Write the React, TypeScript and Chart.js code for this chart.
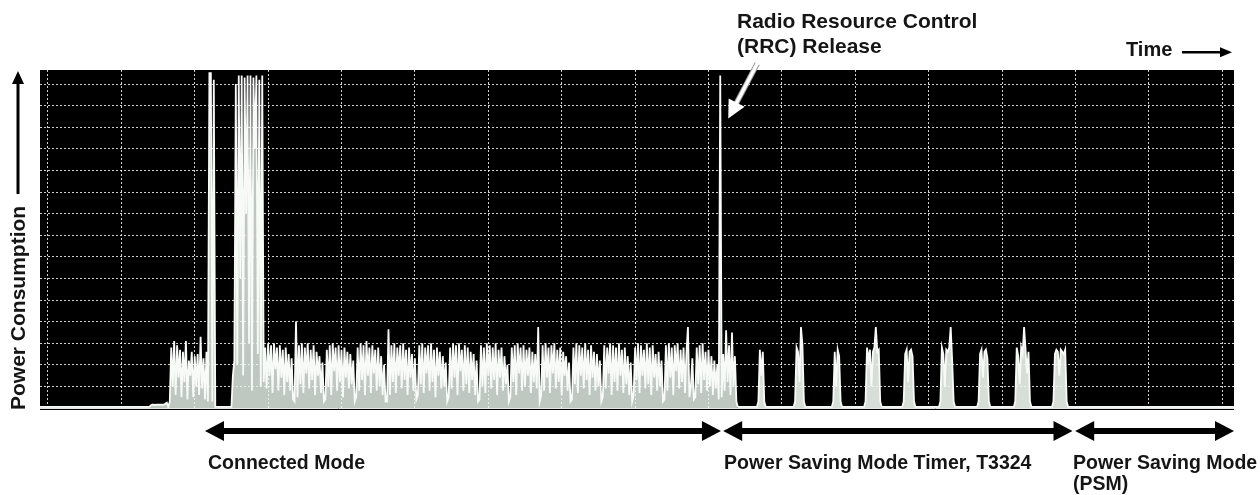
import React, { useEffect, useRef } from "react";
import { Chart, registerables } from "chart.js";

Chart.register(...registerables);

// ---- axis ranges (time in samples, power in grid divisions) ----
const X_MIN = -5.4;
const X_MAX = 808;
const Y_MIN = 0;
const Y_MAX = 15.65;
const X_GRID = [0, 50, 100, 150, 200, 250, 300, 350, 400, 450, 500, 550, 600, 650, 700, 750, 800];
const Y_GRID = [0, 1, 2, 3, 4, 5, 6, 7, 8, 9, 10, 11, 12, 13, 14, 15];

const IDLE_LEVEL = 0.05;

// ---- trace segments (start sample + read values) ----
const LEAD_START = 70;
const LEAD_VALUES = [0.12, 0.15, 0.15, 0.14, 0.16, 0.15, 0.15, 0.16, 0.15, 0.15, 0.2, 0.25];

const ATTACH_START = 83;
const ATTACH_VALUES = [
  0.3, 2.8, 1.0, 3.1, 0.6, 2.9, 1.4, 2.7, 0.5, 2.6, 1.2, 3.1, 0.4, 2.2, 1.5, 2.6, 0.5, 2.4, 1.0, 2.5,
  0.6, 3.3, 0.9, 2.3, 0.4, 2.6, 0.3, 15.5, 15.5, 0.3, 15.2,
];

const BURST_START = 126;
const BURST_VALUES = [
  1.5, 2.2, 15.0, 2.0, 15.4, 6.0, 15.4, 1.5, 15.3, 9.0, 15.4, 3.0, 15.4, 0.8, 15.3, 12.0, 15.4, 2.5, 15.2,
  1.0, 15.4,
];

const CONNECTED_START = 147;
const G1 = [1.2, 2.8, 0.9, 3.0, 1.5, 2.9, 0.7, 3.0, 1.8, 2.8, 0.8, 2.9, 1.4, 2.7, 0.6, 2.8, 1.2, 2.5, 0.8, 2.3, 0.4];
const G2 = [0.3, 4.0, 0.5, 2.9, 1.1, 3.0, 0.7, 2.8, 1.6, 3.0, 0.9, 2.7, 1.3, 2.9, 0.6, 2.6, 1.5, 2.4, 0.7, 2.1, 0.3];
const G3 = [0.4, 2.7, 1.0, 2.9, 0.6, 3.0, 1.7, 2.8, 0.8, 2.9, 1.2, 2.7, 0.5, 2.8, 1.4, 2.6, 0.9, 2.5, 1.1, 2.2, 0.3];
const G4 = [0.5, 2.8, 0.8, 3.0, 1.3, 2.9, 0.6, 3.1, 1.5, 2.8, 0.7, 2.9, 1.6, 2.7, 0.8, 2.8, 1.0, 2.4, 0.6, 2.0, 0.3];
const G5 = [0.3, 3.65, 0.6, 2.9, 1.2, 3.0, 0.7, 2.8, 1.5, 2.9, 0.9, 3.0, 1.3, 2.7, 0.6, 2.8, 1.4, 2.5, 0.8, 2.3, 0.4];
const G6 = [0.6, 2.9, 1.1, 3.0, 0.7, 2.8, 1.6, 2.9, 0.8, 3.0, 1.2, 2.7, 0.5, 2.8, 1.5, 2.6, 0.9, 2.4, 1.0, 2.1, 0.3];
const G7 = [0.5, 2.8, 0.9, 3.0, 1.4, 2.9, 0.6, 3.0, 1.7, 2.7, 0.8, 2.9, 1.1, 2.8, 0.7, 2.6, 1.3, 2.5, 0.6, 2.2, 0.3];
const G8 = [0.4, 2.9, 1.0, 2.8, 0.7, 3.0, 1.5, 2.9, 0.9, 2.8, 1.3, 3.0, 0.6, 2.7, 1.4, 2.8, 0.8, 2.4, 1.1, 2.0, 0.3];
const G9 = [0.5, 2.8, 1.2, 2.9, 0.6, 3.0, 1.6, 2.8, 0.8, 2.9, 1.0, 2.7, 1.5, 2.8, 0.7, 2.6, 1.2, 2.5, 0.9, 3.75, 0.3];
const G10 = [0.6, 2.9, 0.8, 3.0, 1.4, 2.8, 0.7, 2.9, 1.6, 3.0, 0.9, 2.7, 1.2, 2.8, 0.6, 2.6, 1.5, 2.4, 0.8, 2.1, 0.3];
const G11 = [0.4, 2.8, 1.1, 3.0, 0.7, 2.9, 1.5, 2.8, 0.9, 3.0, 1.3, 2.7, 0.6, 2.9, 1.4, 2.6, 0.8, 2.5, 1.0, 2.2, 0.3];
const G12 = [0.5, 2.9, 0.9, 2.8, 1.6, 3.0, 0.6, 2.9, 1.2, 2.8, 0.8, 3.0, 1.5, 2.7, 0.7, 2.8, 1.1, 2.4, 0.6, 2.1, 0.3];
const G13 = [0.6, 2.8, 1.3, 3.0, 0.7, 2.9, 1.5, 2.7, 0.9, 3.0, 1.1, 2.8, 0.6, 2.9, 1.4, 2.5, 0.8, 2.6, 1.0, 2.2, 0.3];
const G14 = [0.4, 2.9, 0.8, 3.0, 1.4, 2.8, 0.6, 2.9, 1.7, 3.0, 0.9, 2.7, 1.2, 2.8, 0.7, 2.6, 3.75, 0.5, 1.0, 2.3, 0.4];
const G15 = [0.5, 2.8, 1.1, 2.9, 0.7, 3.0, 1.3, 2.6, 0.8, 2.7, 1.0, 2.4, 0.6, 2.2, 0.9, 2.0, 0.4];
const RRC_RELEASE = [15.4, 0.5];
const TAIL_VALUES = [2.5, 0.8, 3.6, 1.2, 2.9, 0.6, 3.5, 1.0, 2.4, 0.3];

// PSM timer (T3324) paging bursts
const T1_START = 484;
const T1 = [0.3, 2.7, 1.5, 2.6, 0.3];
const T2_START = 509;
const T2 = [0.3, 2.8, 2.6, 1.2, 3.75, 2.9, 0.3];
const T3_START = 535;
const T3 = [0.3, 2.6, 1.0, 2.7, 2.4, 0.3];
const T4_START = 557;
const T4 = [0.3, 2.8, 2.2, 2.7, 1.0, 2.6, 2.8, 3.75, 2.6, 2.7, 0.3];
const T5_START = 583;
const T5 = [0.3, 2.5, 2.7, 1.2, 2.6, 2.7, 2.4, 0.3];
const T6_START = 608;
const T6 = [0.3, 2.8, 2.5, 1.0, 2.7, 2.6, 2.8, 3.75, 2.2, 0.3];
const T7_START = 634;
const T7 = [0.3, 2.5, 2.7, 1.4, 2.6, 2.7, 2.3, 0.3];
const T8_START = 659;
const T8 = [0.3, 2.8, 2.4, 1.1, 2.8, 2.5, 3.75, 2.7, 1.6, 2.6, 0.3];
const T9_START = 685;
const T9 = [0.3, 2.5, 2.7, 2.6, 1.5, 2.7, 2.6, 2.5, 2.7, 0.3];

// phase spans (sample positions) for the arrows under the plot
const CONNECTED_SPAN = [107, 458.5];
const TIMER_SPAN = [460, 698];
const PSM_SPAN = [699.8, 808];
const RRC_POINT = [458, 13.4];

const CONNECTED_VALUES = [
  ...G1, ...G2, ...G3, ...G4, ...G5, ...G6, ...G7, ...G8, ...G9, ...G10, ...G11, ...G12, ...G13, ...G14, ...G15,
  ...RRC_RELEASE, ...TAIL_VALUES,
];

type Seg = { start: number; values: number[] };
const SEGMENTS: Seg[] = [
  { start: LEAD_START, values: LEAD_VALUES },
  { start: ATTACH_START, values: ATTACH_VALUES },
  { start: BURST_START, values: BURST_VALUES },
  { start: CONNECTED_START, values: CONNECTED_VALUES },
  { start: T1_START, values: T1 },
  { start: T2_START, values: T2 },
  { start: T3_START, values: T3 },
  { start: T4_START, values: T4 },
  { start: T5_START, values: T5 },
  { start: T6_START, values: T6 },
  { start: T7_START, values: T7 },
  { start: T8_START, values: T8 },
  { start: T9_START, values: T9 },
];

function buildTrace() {
  const pts: { x: number; y: number }[] = [{ x: X_MIN, y: IDLE_LEVEL }];
  let last = X_MIN;
  for (const seg of SEGMENTS) {
    if (seg.start > last + 1) {
      if (last > X_MIN) pts.push({ x: last + 1, y: IDLE_LEVEL });
      pts.push({ x: seg.start - 1, y: IDLE_LEVEL });
    }
    seg.values.forEach((v, i) => pts.push({ x: seg.start + i, y: v }));
    last = seg.start + seg.values.length - 1;
  }
  pts.push({ x: last + 1, y: IDLE_LEVEL });
  pts.push({ x: X_MAX, y: IDLE_LEVEL });
  return pts;
}

const FONT = "'Liberation Sans', Arial, Helvetica, sans-serif";
const INK = "#151515";

function fillArrowHead(ctx: CanvasRenderingContext2D, tipX: number, tipY: number, dirX: number, dirY: number, len: number, half: number) {
  const n = Math.hypot(dirX, dirY);
  const ux = dirX / n, uy = dirY / n;
  const bx = tipX - ux * len, by = tipY - uy * len;
  ctx.beginPath();
  ctx.moveTo(tipX, tipY);
  ctx.lineTo(bx - uy * half, by + ux * half);
  ctx.lineTo(bx + uy * half, by - ux * half);
  ctx.closePath();
  ctx.fill();
}

function doubleArrow(ctx: CanvasRenderingContext2D, x1: number, x2: number, y: number) {
  const len = 19, half = 10, thick = 6;
  ctx.fillStyle = "#000";
  ctx.fillRect(x1 + len - 1, y - thick / 2, x2 - x1 - 2 * len + 2, thick);
  fillArrowHead(ctx, x1, y, -1, 0, len, half);
  fillArrowHead(ctx, x2, y, 1, 0, len, half);
}

const annotations = {
  id: "annotations",
  beforeDraw(chart: any) {
    const { ctx, chartArea } = chart;
    ctx.save();
    ctx.fillStyle = "#000";
    ctx.fillRect(chartArea.left, chartArea.top, chartArea.right - chartArea.left, chartArea.bottom - chartArea.top + 2);
    ctx.restore();
  },
  beforeDatasetsDraw(chart: any) {
    const { ctx, chartArea, scales } = chart;
    const y0 = Math.round(scales.y.getPixelForValue(0)) + 0.5;
    ctx.save();
    ctx.strokeStyle = "#e6e6e6";
    ctx.lineWidth = 1;
    ctx.beginPath();
    ctx.moveTo(chartArea.left, y0);
    ctx.lineTo(chartArea.right, y0);
    ctx.stroke();
    ctx.restore();
  },
  afterDraw(chart: any) {
    const { ctx, scales } = chart;
    const xs = scales.x, ys = scales.y;
    ctx.save();
    // phase arrows
    const ay = 431;
    doubleArrow(ctx, xs.getPixelForValue(CONNECTED_SPAN[0]), xs.getPixelForValue(CONNECTED_SPAN[1]), ay);
    doubleArrow(ctx, xs.getPixelForValue(TIMER_SPAN[0]), xs.getPixelForValue(TIMER_SPAN[1]), ay);
    doubleArrow(ctx, xs.getPixelForValue(PSM_SPAN[0]), xs.getPixelForValue(PSM_SPAN[1]), ay);

    // Time arrow
    ctx.fillStyle = "#000";
    ctx.fillRect(1182, 51, 40, 2.5);
    fillArrowHead(ctx, 1232, 52.2, 1, 0, 12, 5);

    // Power consumption arrow
    ctx.fillRect(16.5, 82, 3, 112);
    fillArrowHead(ctx, 18, 71, 0, -1, 13, 6);

    // RRC release arrow
    const tipX = xs.getPixelForValue(RRC_POINT[0]) + 8;
    const tipY = ys.getPixelForValue(RRC_POINT[1]);
    const tailX = tipX + 29, tailY = tipY - 55;
    const dx = tipX - tailX, dy = tipY - tailY;
    const n = Math.hypot(dx, dy);
    const ux = dx / n, uy = dy / n;
    ctx.lineCap = "butt";
    ctx.strokeStyle = "#9a9a9a";
    ctx.lineWidth = 5.5;
    ctx.beginPath();
    ctx.moveTo(tailX, tailY);
    ctx.lineTo(tipX - ux * 14, tipY - uy * 14);
    ctx.stroke();
    ctx.strokeStyle = "#ffffff";
    ctx.lineWidth = 3.5;
    ctx.beginPath();
    ctx.moveTo(tailX - ux * 0.5, tailY - uy * 0.5);
    ctx.lineTo(tipX - ux * 14, tipY - uy * 14);
    ctx.stroke();
    ctx.fillStyle = "#ffffff";
    fillArrowHead(ctx, tipX, tipY, dx, dy, 18, 9);
    ctx.restore();
  },
};

const textBase: React.CSSProperties = {
  position: "absolute",
  fontFamily: FONT,
  fontWeight: 700,
  color: INK,
  whiteSpace: "nowrap",
  lineHeight: 1,
};

// fill under the trace: lighter for the dense connected-mode part, near-solid for the T3324 paging bursts
const TIMER_FILL_FROM = 470;
const CONNECTED_FILL = "rgba(232,244,234,0.82)";
const TIMER_FILL = "rgba(238,246,238,0.9)";

export default function App() {
  const canvasRef = useRef<HTMLCanvasElement | null>(null);

  useEffect(() => {
    if (!canvasRef.current) return;
    const gridCommon = {
      color: "rgba(255,255,255,0.82)",
      lineWidth: 1,
      drawTicks: false,
      tickLength: 0,
    };
    const chart = new Chart(canvasRef.current, {
      type: "line",
      data: {
        datasets: [
          {
            data: buildTrace(),
            borderColor: "#f8faf8",
            borderWidth: 1.8,
            pointRadius: 0,
            tension: 0,
            fill: "origin",
            backgroundColor: CONNECTED_FILL,
            segment: {
              backgroundColor: (c: any) => (c.p0.parsed.x >= TIMER_FILL_FROM ? TIMER_FILL : CONNECTED_FILL),
            },
          },
        ],
      },
      options: {
        animation: false,
        responsive: true,
        maintainAspectRatio: false,
        layout: { padding: { left: 40, right: 26, top: 70, bottom: 87 } },
        plugins: { legend: { display: false }, tooltip: { enabled: false } },
        scales: {
          x: {
            type: "linear",
            min: X_MIN,
            max: X_MAX,
            ticks: { display: false },
            grid: gridCommon,
            border: { display: false, dash: [2, 2] },
            afterBuildTicks: (s: any) => {
              s.ticks = X_GRID.map((v) => ({ value: v }));
            },
            afterFit: (s: any) => {
              s.height = 0;
            },
          },
          y: {
            type: "linear",
            min: Y_MIN,
            max: Y_MAX,
            ticks: { display: false },
            grid: gridCommon,
            border: { display: false, dash: [2, 2] },
            afterBuildTicks: (s: any) => {
              s.ticks = Y_GRID.map((v) => ({ value: v }));
            },
            afterFit: (s: any) => {
              s.width = 0;
            },
          },
        },
      } as any,
      plugins: [annotations],
    });
    return () => chart.destroy();
  }, []);

  return (
    <div style={{ position: "absolute", left: 0, top: 0, width: 1260, height: 495, background: "#fff", overflow: "hidden" }}>
      <canvas ref={canvasRef} style={{ position: "absolute", left: 0, top: 0 }} />
      <div style={{ ...textBase, left: 737, top: 10, fontSize: 21 }}>Radio Resource Control</div>
      <div style={{ ...textBase, left: 737, top: 35, fontSize: 21 }}>(RRC) Release</div>
      <div style={{ ...textBase, left: 1126, top: 39, fontSize: 20 }}>Time</div>
      <div
        style={{
          ...textBase,
          left: 0,
          top: 0,
          fontSize: 21,
          transformOrigin: "0 0",
          transform: "translate(7px, 410px) rotate(-90deg)",
        }}
      >
        Power Consumption
      </div>
      <div style={{ ...textBase, left: 208, top: 453, fontSize: 19.5 }}>Connected Mode</div>
      <div style={{ ...textBase, left: 724, top: 453, fontSize: 19.5 }}>Power Saving Mode Timer, T3324</div>
      <div style={{ ...textBase, left: 1073, top: 453, fontSize: 19.5 }}>Power Saving Mode</div>
      <div style={{ ...textBase, left: 1073, top: 474, fontSize: 19.5 }}>(PSM)</div>
    </div>
  );
}
